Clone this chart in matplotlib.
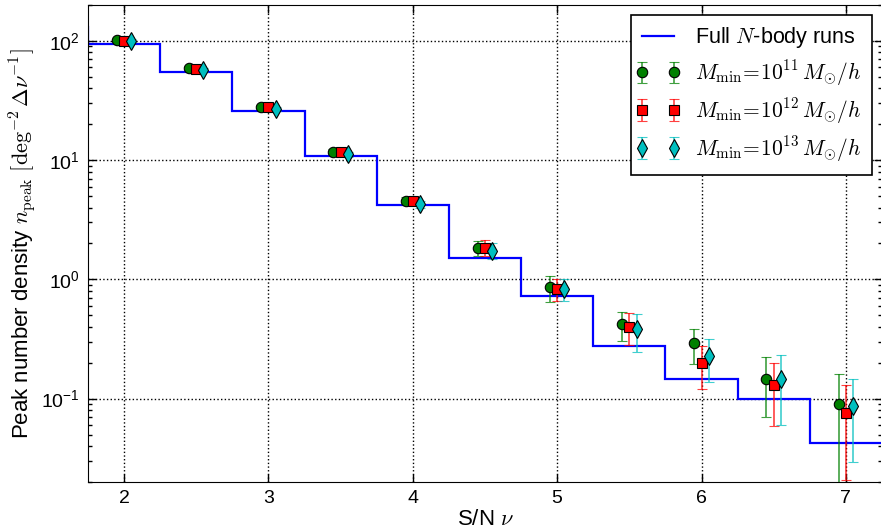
import numpy as np
import matplotlib
matplotlib.use("Agg")
import matplotlib.pyplot as plt
from matplotlib.container import ErrorbarContainer
from matplotlib.legend_handler import HandlerErrorbar

plt.rcParams["font.family"] = ["Liberation Sans", "DejaVu Sans"]
plt.rcParams["mathtext.fontset"] = "cm"
plt.rcParams["xtick.direction"] = "in"
plt.rcParams["ytick.direction"] = "in"
plt.rcParams["xtick.top"] = True
plt.rcParams["ytick.right"] = True

# S/N bins (centres, width 0.5)
nbody_centers = [1.5, 2.0, 2.5, 3.0, 3.5, 4.0, 4.5, 5.0, 5.5, 6.0, 6.5, 7.0]
nbody_peaks = [131, 95, 55.3, 25.8, 10.8, 4.19, 1.52, 0.724, 0.277, 0.147, 0.099, 0.0425]

nu = [2.0, 2.5, 3.0, 3.5, 4.0, 4.5, 5.0, 5.5, 6.0, 6.5, 7.0]

# halo model predictions for three minimum masses
peaks_m11 = [101, 59, 28.1, 11.8, 4.58, 1.84, 0.857, 0.421, 0.29, 0.147, 0.090]
err_m11 = [3, 2, 1, 0.6, 0.3, 0.27, 0.205, 0.115, 0.095, 0.077, 0.072]

peaks_m12 = [100, 58, 28, 11.7, 4.55, 1.85, 0.829, 0.40, 0.199, 0.129, 0.0758]
err_m12 = [3, 2, 1, 0.6, 0.3, 0.27, 0.17, 0.12, 0.078, 0.07, 0.055]

peaks_m13 = [100, 57, 27, 11.2, 4.27, 1.74, 0.83, 0.38, 0.227, 0.145, 0.0873]
err_m13 = [3, 2, 1, 0.6, 0.3, 0.27, 0.17, 0.135, 0.09, 0.085, 0.058]

fig = plt.figure(figsize=(8.81, 5.30), dpi=100)
ax = fig.add_axes([0.0999, 0.0906, 0.9012, 0.900])

edges = np.append(np.array(nbody_centers) - 0.25, nbody_centers[-1] + 0.25)
ax.stairs(nbody_peaks, edges, baseline=None, color="b", lw=1.6,
          label=r"Full $N$-body runs", zorder=2)

nu = np.array(nu)
series = [
    (nu - 0.05, peaks_m11, err_m11, "o", 7.5, (0, 0.5, 0), r"$M_{\rm min}\!=\!10^{11}\,M_{\odot}/h$"),
    (nu, peaks_m12, err_m12, "s", 7.5, (1, 0, 0), r"$M_{\rm min}\!=\!10^{12}\,M_{\odot}/h$"),
    (nu + 0.05, peaks_m13, err_m13, "d", 9, (0, 0.75, 0.75), r"$M_{\rm min}\!=\!10^{13}\,M_{\odot}/h$"),
]
for x, y, e, m, ms, c, lab in series:
    cont = ax.errorbar(x, y, yerr=e, fmt=m, ms=ms, mfc=c, mec="k", mew=0.8,
                       ecolor=c, elinewidth=1.2, capsize=3.5, capthick=1.2,
                       label=lab, zorder=3)
    for art in cont[1] + cont[2]:
        art.set_alpha(0.75)

ax.set_yscale("log")
ax.set_xlim(1.75, 7.25)
ax.set_ylim(0.02, 200)
ax.set_xticks([2, 3, 4, 5, 6, 7])
ax.tick_params(labelsize=14, length=5.5, width=1, pad=6)
ax.tick_params(which="minor", length=3, width=1)
ax.grid(True, which="major", color="k", ls=":", lw=1)

ax.set_xlabel(r"S/N $\nu$", fontsize=16, labelpad=1)
ax.set_ylabel(r"Peak number density $n_{\rm peak}\ [{\rm deg}^{-2}\,\Delta\nu^{-1}]$",
              fontsize=16, labelpad=2)

leg = ax.legend(loc="upper right", fontsize=15.5, numpoints=2, fancybox=False,
                framealpha=1, edgecolor="k", handlelength=1.5,
                handletextpad=1.0, borderaxespad=0.45, labelspacing=0.38,
                borderpad=0.5,
                handler_map={ErrorbarContainer: HandlerErrorbar(marker_pad=0)})
leg.get_frame().set_linewidth(1.2)

fig.savefig("out.png", dpi=100)
